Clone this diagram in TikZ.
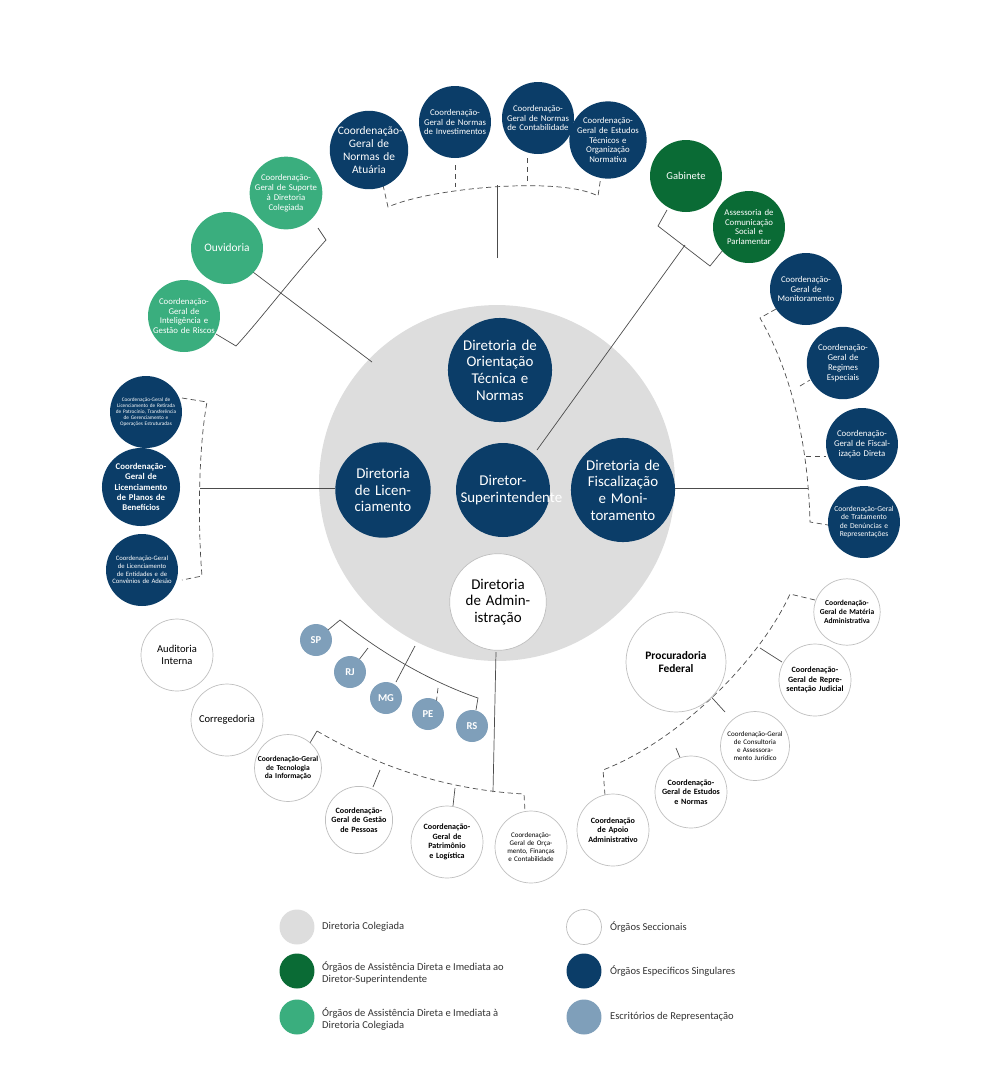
\documentclass[tikz,border=0pt]{standalone}
\usepackage{fontspec}
\setmainfont{Carlito}
\definecolor{navy}{HTML}{0B3D68}
\definecolor{dkgreen}{HTML}{0A6B35}
\definecolor{ltgreen}{HTML}{3AAE7E}
\definecolor{colgrey}{HTML}{DDDDDD}
\definecolor{escblue}{HTML}{7F9FBA}
\begin{document}
\begin{tikzpicture}[x=0.02cm,y=-0.02cm,
  org/.style = {circle, inner sep=0pt, align=center, text width=1.25cm, font=\fontsize{5}{5.6}\selectfont},
  dir/.style = {circle, inner sep=0pt, align=center, minimum size=1.88cm, text width=1.7cm, font=\fontsize{8.5}{9.5}\selectfont, fill=navy, text=white},
  mid/.style = {org, minimum size=1.44cm},
  sml/.style = {org, minimum size=1.32cm},
  esp/.style = {fill=navy, text=white},
  dir1/.style = {fill=dkgreen, text=white},
  dir2/.style = {fill=ltgreen, text=white},
  sec/.style = {fill=white, draw=black!25, text=black},
  esc/.style = {circle, fill=escblue, text=white, minimum size=0.64cm, inner sep=0pt, font=\fontsize{6}{6}\selectfont\bfseries},
  link/.style = {draw=black!70, line width=0.4pt},
  brk/.style = {draw=black!70, line width=0.4pt, densely dashed},
  leg/.style = {circle, minimum size=0.7cm, inner sep=0pt},
  legtxt/.style = {anchor=west, align=left, font=\fontsize{6}{7}\selectfont, text=black!80}]
\useasboundingbox (0,0) rectangle (1006,1080);

% colegiada
\node[circle, fill=colgrey, minimum size=7.12cm, inner sep=0pt] (col) at (497,483) {};

% connectors
\draw[link] (497,258) -- (497,185);
\draw[brk] (383,185) -- (388,207) .. controls (430,188) and (560,176) .. (598,196) -- (601,176);
\draw[brk] (455,165) -- (455,187);
\draw[brk] (527,158) -- (527,182);
\draw[link] (253,272) -- (372,362);
\draw[link] (318,228) -- (326,240) .. controls (290,280) and (260,320) .. (236,346) -- (216,334);
\draw[link] (537,450) -- (685,245);
\draw[link] (667,210) -- (658,226) -- (710,266) -- (723,250);
\draw[link] (668,488) -- (808,488);
\draw[brk] (776,309) -- (760,318) .. controls (790,370) and (808,440) .. (810,522) -- (828,525);
\draw[brk] (800,386) -- (810,380);
\draw[brk] (806,456) -- (826,456);
\draw[link] (200,488) -- (335,488);
\draw[brk] (182,398) -- (207,402) .. controls (198,450) and (198,530) .. (202,576) -- (182,580);
\draw[link] (396,682) -- (415,646);
\draw[link] (328,630) -- (340,620) .. controls (390,660) and (440,685) .. (478,698) -- (476,710);
\draw[link] (368,648) -- (355,665);
\draw[brk] (438,688) -- (436,705);
\draw[link] (496,652) -- (493,792);
\draw[link] (307,748) -- (317,731);
\draw[brk] (317,731) .. controls (380,768) and (450,790) .. (524,794) -- (525,811);
\draw[link] (380,770) -- (373,787);
\draw[link] (455,788) -- (453,806);
\draw[link] (705,690) -- (725,712);
\draw[brk] (815,600) -- (790,594) .. controls (760,660) and (680,740) .. (603,770) -- (605,795);
\draw[link] (760,648) -- (782,662);
\draw[link] (676,748) -- (681,760);

% diretorias
\node[dir] (dotn) at (500,370) {Diretoria de Orientação Técnica e Normas};
\node[dir] (dl) at (383,490) {Diretoria de Licenciamento};
\node[dir] (ds) at (503,490) {Diretor-\\Superintendente};
\node[dir] (dfm) at (623,490) {Diretoria de Fiscalização e Monitoramento};
\node[dir, sec] (dad) at (498,602) {Diretoria de Administração};

% orgaos especificos
\node[mid, esp, font=\fontsize{6.5}{7.5}\selectfont] (cgna) at (369,150) {Coordenação-Geral de Normas de Atuária};
\node[mid, esp] (cgni) at (455,122) {Coordenação-Geral de Normas de Investimentos};
\node[mid, esp] (cgnc) at (538,118) {Coordenação-Geral de Normas de Contabilidade};
\node[mid, esp] (cget) at (608,140) {Coordenação-Geral de Estudos Técnicos e Organização Normativa};
\node[mid, esp] (cgm) at (806,289) {Coordenação-Geral de Monitoramento};
\node[mid, esp] (cgre) at (843,363) {Coordenação-Geral de Regimes Especiais};
\node[mid, esp] (cgfd) at (862,444) {Coordenação-Geral de Fiscalização Direta};
\node[mid, esp, font=\fontsize{4.3}{4.9}\selectfont] (cgtd) at (864,522) {Coordenação-Geral de Tratamento de Denúncias e Representações};
\node[mid, esp, font=\fontsize{3}{3.5}\selectfont] (cglr) at (146,412) {Coordenação-Geral de Licenciamento de Retirada de Patrocínio, Transferência de Gerenciamento e Operações Estruturadas};
\node[mid, esp, font=\fontsize{5}{5.8}\selectfont\bfseries] (cglp) at (141,487) {Coordenação-Geral de Licenciamento de Planos de Benefícios};
\node[mid, esp, font=\fontsize{3.8}{4.4}\selectfont] (cgle) at (142,570) {Coordenação-Geral de Licenciamento de Entidades e de Convênios de Adesão};

% assistencia direta
\node[mid, dir1, font=\fontsize{6}{7}\selectfont] (gab) at (686,176) {Gabinete};
\node[mid, dir1] (ascom) at (749,227) {Assessoria de Comunicação Social e Parlamentar};
\node[mid, dir2] (cgsd) at (286,193) {Coordenação-Geral de Suporte à Diretoria Colegiada};
\node[mid, dir2, font=\fontsize{6.5}{7.5}\selectfont] (ouv) at (227,248) {Ouvidoria};
\node[mid, dir2] (cgig) at (184,316) {Coordenação-Geral de Inteligência e Gestão de Riscos};

% seccionais
\node[mid, sec, font=\fontsize{6}{7}\selectfont] (aud) at (177,655) {Auditoria Interna};
\node[mid, sec, font=\fontsize{6}{7}\selectfont] (corr) at (227,720) {Corregedoria};
\node[sml, sec, font=\fontsize{4.3}{5}\selectfont\bfseries] (cgti) at (288,768) {Coordenação-Geral de Tecnologia da Informação};
\node[sml, sec, font=\fontsize{4.6}{5.4}\selectfont\bfseries] (cggp) at (359,820) {Coordenação-Geral de Gestão de Pessoas};
\node[mid, sec, font=\fontsize{4.6}{5.4}\selectfont\bfseries] (cgpl) at (447,842) {Coordenação-Geral de Patrimônio e Logística};
\node[mid, sec, font=\fontsize{4}{4.7}\selectfont] (cgof) at (531,847) {Coordenação-Geral de Orçamento, Finanças e Contabilidade};
\node[circle, sec, minimum size=2cm, inner sep=0pt, align=center, font=\fontsize{6.5}{7.5}\selectfont\bfseries] (pf) at (676,662) {Procuradoria\\Federal};
\node[sml, sec, font=\fontsize{4.3}{5}\selectfont\bfseries] (cgma) at (847,612) {Coordenação-Geral de Matéria Administrativa};
\node[mid, sec, font=\fontsize{4.6}{5.4}\selectfont\bfseries] (cgrj) at (815,680) {Coordenação-Geral de Representação Judicial};
\node[sml, sec, font=\fontsize{4}{4.7}\selectfont] (cgca) at (755,746) {Coordenação-Geral de Consultoria e Assessoramento Jurídico};
\node[mid, sec, font=\fontsize{4.6}{5.4}\selectfont\bfseries] (cgen) at (691,792) {Coordenação-Geral de Estudos e Normas};
\node[mid, sec, font=\fontsize{4.6}{5.4}\selectfont\bfseries] (cap) at (613,830) {Coordenação de Apoio Administrativo};

% escritorios
\node[esc] (sp) at (316,640) {SP};
\node[esc] (rj) at (350,672) {RJ};
\node[esc] (mg) at (386,698) {MG};
\node[esc] (pe) at (428,714) {PE};
\node[esc] (rs) at (472,726) {RS};

% legenda
\node[leg, fill=colgrey] (l1) at (297,927) {};
\node[legtxt] at (316,927) {Diretoria Colegiada};
\node[leg, fill=dkgreen] (l2) at (297,971) {};
\node[legtxt] at (316,973) {Órgãos de Assistência Direta e Imediata ao\\Diretor-Superintendente};
\node[leg, fill=ltgreen] (l3) at (297,1017) {};
\node[legtxt] at (316,1019) {Órgãos de Assistência Direta e Imediata à\\Diretoria Colegiada};
\node[leg, sec] (l4) at (584,927) {};
\node[legtxt] at (604,927) {Órgãos Seccionais};
\node[leg, fill=navy] (l5) at (584,971) {};
\node[legtxt] at (604,971) {Órgãos Especificos Singulares};
\node[leg, fill=escblue] (l6) at (584,1017) {};
\node[legtxt] at (604,1017) {Escritórios de Representação};
\end{tikzpicture}
\end{document}
